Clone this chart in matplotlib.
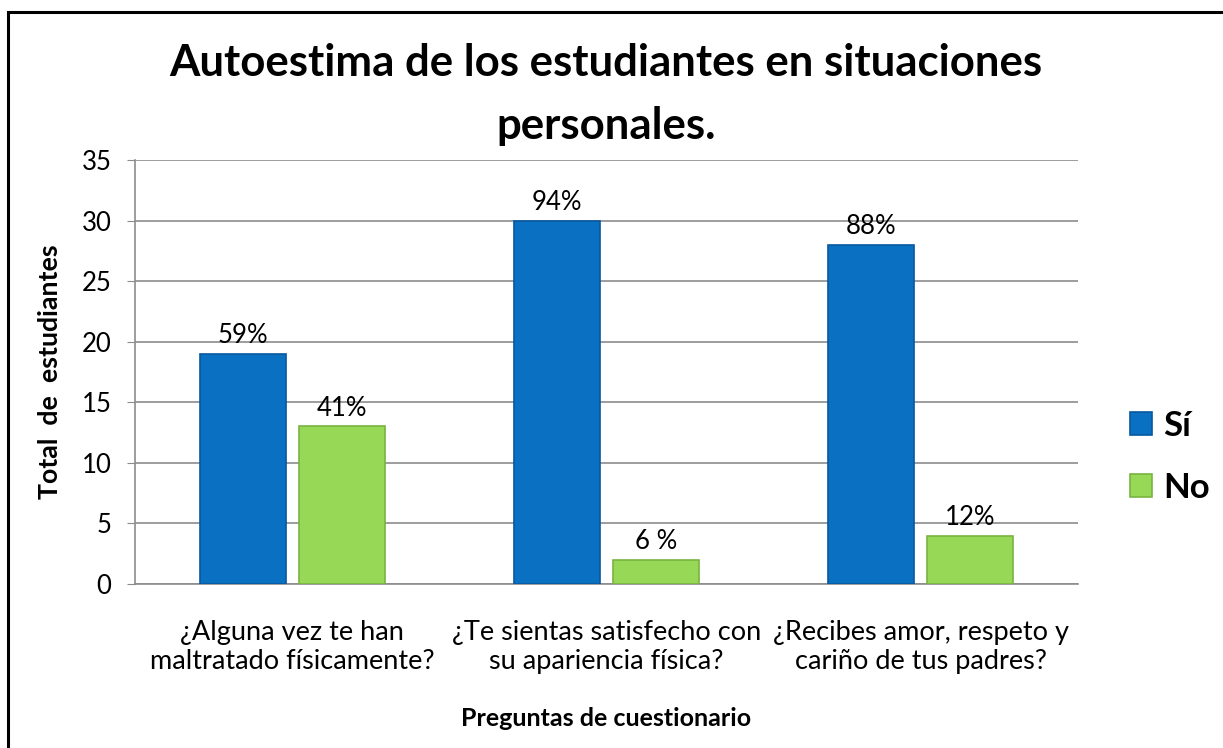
import matplotlib.pyplot as plt
import numpy as np
from matplotlib.patches import Rectangle

plt.rcParams["font.family"] = ["Lato", "DejaVu Sans"]

categories = [
    "¿Alguna vez te han\nmaltratado físicamente?",
    "¿Te sientas satisfecho con\nsu apariencia física?",
    "¿Recibes amor, respeto y\ncariño de tus padres?",
]
si_values = [19, 30, 28]
no_values = [13, 2, 4]
si_labels = ["59%", "94%", "88%"]
no_labels = ["41%", "6 %", "12%"]
series_names = ["Sí", "No"]

blue = "#0A70C2"
green = "#98D857"

fig = plt.figure(figsize=(12.23, 7.48), dpi=100)
# chart frame (cropped on the right and bottom in the original)
fig.patches.append(Rectangle((8 / 1223, -0.1), 1.2, 1.1 - 12 / 748,
                             transform=fig.transFigure, fill=False,
                             edgecolor="black", linewidth=2.2))
ax = fig.add_axes([0.1104, 0.2193, 0.771, 0.5668])

x = np.arange(len(categories))
w = 0.274
gap = 13 / 314.3
b1 = ax.bar(x - w / 2 - gap / 2, si_values, w, color=blue, edgecolor="#0758A0",
            linewidth=1.2, label=series_names[0], zorder=3)
b2 = ax.bar(x + w / 2 + gap / 2, no_values, w, color=green, edgecolor="#78B440",
            linewidth=1.2, label=series_names[1], zorder=3)

for bars, labels in ((b1, si_labels), (b2, no_labels)):
    for bar, lab in zip(bars, labels):
        ax.annotate(lab, (bar.get_x() + bar.get_width() / 2, bar.get_height()),
                    xytext=(0, 4), textcoords="offset points",
                    ha="center", va="bottom", fontsize=18.5, color="black")

ax.set_xlim(-0.5, 2.5)
ax.set_ylim(0, 35)
ax.set_yticks(range(0, 36, 5))
ax.yaxis.grid(True, color="#8c8c8c", linewidth=1.2, zorder=0)
ax.set_axisbelow(True)
for s in ("top", "right"):
    ax.spines[s].set_visible(False)
for s in ("left", "bottom"):
    ax.spines[s].set_color("#8c8c8c")
    ax.spines[s].set_linewidth(1.2)
ax.tick_params(axis="y", length=6, color="#8c8c8c", labelsize=18.5, pad=11)
ax.tick_params(axis="x", length=0, labelsize=19.5, pad=26)
ax.set_xticks(x)
ax.set_xticklabels(categories, linespacing=1.2)

ax.set_ylabel("Total  de  estudiantes", fontsize=19.3, fontweight="bold", labelpad=14)
fig.text(0.4955, 1 - 718 / 748, "Preguntas de cuestionario", ha="center",
         va="center", fontsize=18, fontweight="bold")
fig.text(0.4955, 1 - 63 / 748, "Autoestima de los estudiantes en situaciones",
         ha="center", va="center", fontsize=31.5, fontweight="bold")
fig.text(0.4955, 1 - 126 / 748, "personales.",
         ha="center", va="center", fontsize=31.5, fontweight="bold")

leg = ax.legend(loc="center left", bbox_to_anchor=(1.055, 0.3), frameon=False,
                borderpad=0, borderaxespad=0, prop={"size": 25, "weight": "bold"},
                handlelength=0.65, handleheight=0.65, labelspacing=0.85,
                handletextpad=0.3)

fig.savefig("out.png", dpi=100, facecolor="white")
